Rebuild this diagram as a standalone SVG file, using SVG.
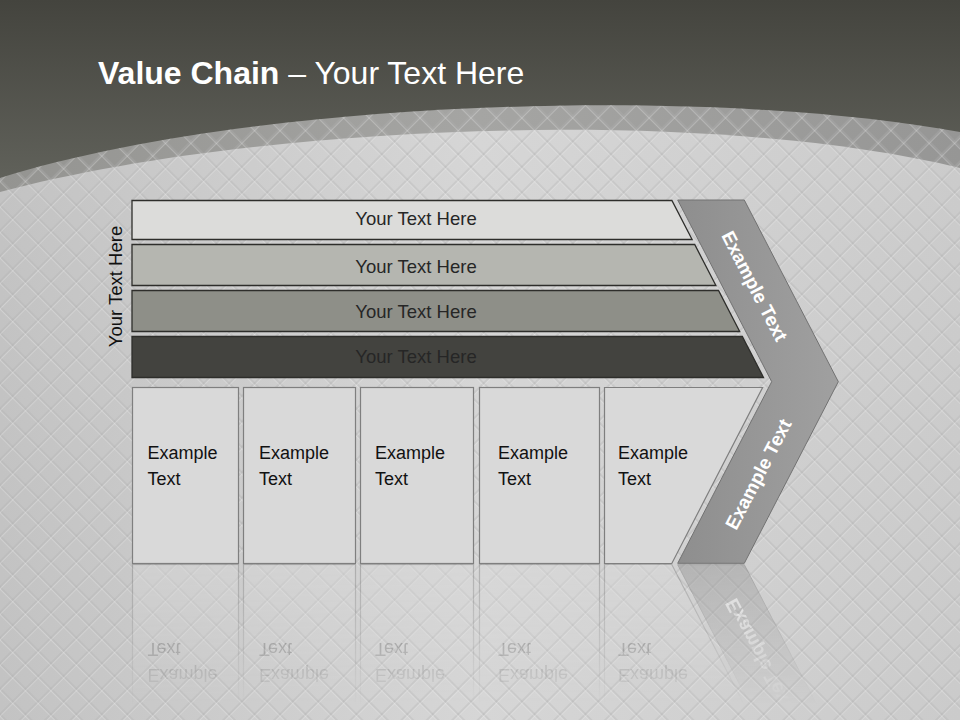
<svg xmlns="http://www.w3.org/2000/svg" xmlns:xlink="http://www.w3.org/1999/xlink" width="960" height="720" viewBox="0 0 960 720">
<style>
.t{font-family:"Liberation Sans",Arial,sans-serif;}
.bar{stroke:#2e2e2b;stroke-width:1.3;}
.bartxt{font-size:18.5px;fill:#262626;text-anchor:middle;}
.box{fill:#d9d9d9;stroke:#7f7f7f;stroke-width:1.2;}
.boxtxt{font-size:18px;fill:#111;}
.chevtxt{font-size:19px;font-weight:bold;fill:#fff;text-anchor:middle;}
</style>
<defs>
<linearGradient id="topg" gradientUnits="userSpaceOnUse" x1="0" y1="0" x2="0" y2="190">
<stop offset="0" stop-color="#44443e"/>
<stop offset="1" stop-color="#62635c"/>
</linearGradient>
<linearGradient id="bgg" x1="0" y1="0" x2="1" y2="0">
<stop offset="0" stop-color="#c3c3c3"/>
<stop offset="0.5" stop-color="#d6d6d6"/>
<stop offset="1" stop-color="#cbcbcb"/>
</linearGradient>
<linearGradient id="arcg" x1="0" y1="0" x2="1" y2="0">
<stop offset="0" stop-color="#949491"/>
<stop offset="0.5" stop-color="#a5a5a3"/>
<stop offset="1" stop-color="#969695"/>
</linearGradient>
<linearGradient id="chevg" x1="0" y1="0" x2="1" y2="0">
<stop offset="0" stop-color="#8e8e8e"/>
<stop offset="1" stop-color="#a0a0a0"/>
</linearGradient>
<pattern id="lattice" width="18" height="18" patternUnits="userSpaceOnUse" patternTransform="rotate(45)">
<rect x="0" y="0" width="18" height="2" fill="#b0b0b0" opacity="0.3"/>
<rect x="0" y="0" width="2" height="18" fill="#b0b0b0" opacity="0.3"/>
<rect x="0" y="2" width="18" height="0.8" fill="#eeeeee" opacity="0.35"/>
<rect x="2" y="0" width="0.8" height="18" fill="#eeeeee" opacity="0.35"/>
</pattern>
<linearGradient id="fadeg" gradientUnits="userSpaceOnUse" x1="0" y1="564" x2="0" y2="705">
<stop offset="0" stop-color="#fff" stop-opacity="0.45"/>
<stop offset="1" stop-color="#fff" stop-opacity="0"/>
</linearGradient>
<mask id="fade" maskUnits="userSpaceOnUse" x="0" y="564" width="960" height="156">
<rect x="0" y="564" width="960" height="156" fill="url(#fadeg)"/>
</mask>
</defs>

<g id="background">
<rect x="0" y="0" width="960" height="720" fill="url(#topg)"/>
<path d="M0,178 C250,100 700,85 960,132 L960,720 L0,720 Z" fill="url(#arcg)"/>
<path d="M0,192 C250,125 700,105 960,168 L960,720 L0,720 Z" fill="url(#bgg)"/>
<path d="M0,178 C250,100 700,85 960,132 L960,720 L0,720 Z" fill="url(#lattice)"/>
</g>

<g id="title">
<text class="t" x="98" y="84" font-size="32" fill="#ffffff"><tspan font-weight="bold">Value Chain</tspan> – Your Text Here</text>
</g>

<g id="side-label">
<text class="t" transform="translate(122,286.5) rotate(-90)" font-size="18.5" fill="#111" text-anchor="middle">Your Text Here</text>
</g>

<g id="bar1">
<polygon class="bar" points="132,200.5 671.9,200.5 692.1,239.5 132,239.5" fill="#dcdcda"/>
<text class="t bartxt" x="416" y="225">Your Text Here</text>
</g>
<g id="bar2">
<polygon class="bar" points="132,244.5 694.7,244.5 715.9,285.5 132,285.5" fill="#b5b6b0"/>
<text class="t bartxt" x="416" y="272.5">Your Text Here</text>
</g>
<g id="bar3">
<polygon class="bar" points="132,290.5 718.5,290.5 739.7,331.5 132,331.5" fill="#8e8f88"/>
<text class="t bartxt" x="416" y="318">Your Text Here</text>
</g>
<g id="bar4">
<polygon class="bar" points="132,336.5 742.3,336.5 763.5,377.5 132,377.5" fill="#43433f"/>
<text class="t bartxt" x="416" y="363">Your Text Here</text>
</g>

<g id="lower">
<g id="box1">
<rect class="box" x="132.5" y="387.5" width="106" height="176"/>
<text class="t boxtxt" x="147.5" y="459">Example</text>
<text class="t boxtxt" x="147.5" y="485">Text</text>
</g>
<g id="box2">
<rect class="box" x="243.5" y="387.5" width="112" height="176"/>
<text class="t boxtxt" x="259" y="459">Example</text>
<text class="t boxtxt" x="259" y="485">Text</text>
</g>
<g id="box3">
<rect class="box" x="360.5" y="387.5" width="113" height="176"/>
<text class="t boxtxt" x="375" y="459">Example</text>
<text class="t boxtxt" x="375" y="485">Text</text>
</g>
<g id="box4">
<rect class="box" x="479.5" y="387.5" width="120" height="176"/>
<text class="t boxtxt" x="498" y="459">Example</text>
<text class="t boxtxt" x="498" y="485">Text</text>
</g>
<g id="box5">
<polygon class="box" points="604.5,387.5 762.6,387.5 671.8,563.5 604.5,563.5"/>
<text class="t boxtxt" x="618" y="459">Example</text>
<text class="t boxtxt" x="618" y="485">Text</text>
</g>
<g id="chevron">
<polygon points="677.7,200 744.3,200 838.3,381.7 744.3,563.3 677.7,563.3 771.7,381.7" fill="url(#chevg)" stroke="#727272" stroke-width="1"/>
<text class="t chevtxt" transform="translate(755,286) rotate(62.6)" dy="7">Example Text</text>
<text class="t chevtxt" transform="translate(758,474) rotate(-62.6)" dy="7">Example Text</text>
</g>
</g>

<g id="reflection" mask="url(#fade)">
<g transform="matrix(1,0,0,-1,0,1128)">
<use xlink:href="#lower"/>
</g>
</g>

<g id="connectors"/>
</svg>
